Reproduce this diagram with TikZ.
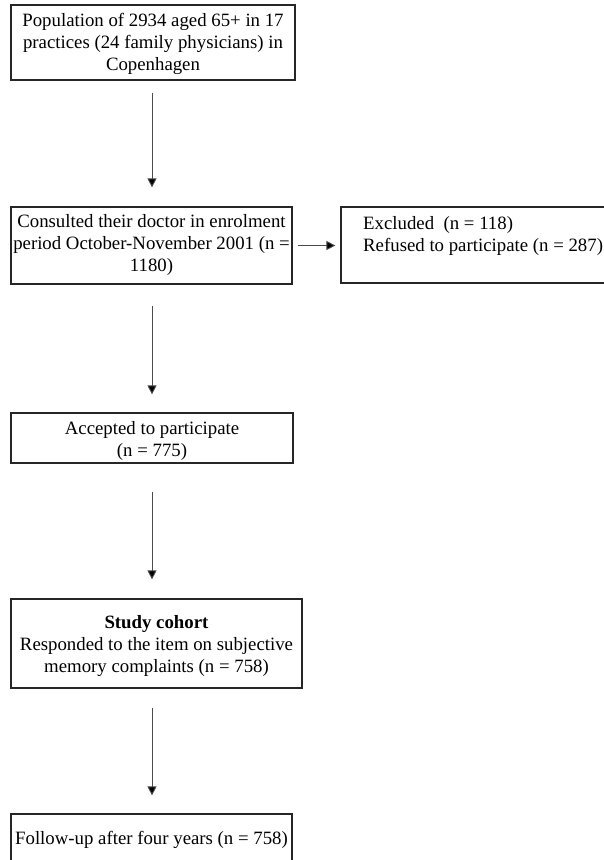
\documentclass[tikz,border=0pt]{standalone}
\usepackage{fontspec}
\setmainfont{Liberation Serif}
\usetikzlibrary{arrows.meta}
\begin{document}
\begin{tikzpicture}[x=1pt,y=-1pt,
  box/.style={draw=black!85, line width=1.2pt, inner sep=0pt},
  txt/.style={inner sep=0pt, align=center, font=\fontsize{18.8}{22}\selectfont},
  arr/.style={draw=black!70, line width=0.9pt, -{Triangle[width=9pt,length=9pt,fill=black]}}]
\useasboundingbox (0,0) rectangle (604,860);
\clip (0,0) rectangle (604,860);
\coordinate (ax) at (152,0);
\node[box, minimum width=284pt, minimum height=75pt] (b1) at (153,42.5) {};
\node[txt] (b1t) at (153,44)
  {Population of 2934 aged 65+ in 17\\practices (24 family physicians) in\\Copenhagen};
\node[box, minimum width=281pt, minimum height=77pt] (b2) at (151.5,245.5) {};
\node[txt] (b2t) at (151.5,245)
  {Consulted their doctor in enrolment\\period October-November 2001 (n =\\1180)};
\node[box, minimum width=299pt, minimum height=76pt] (r) at (490.5,245) {};
\node[txt, anchor=west, align=left] (rt) at (363,235.5)
  {Excluded~~(n = 118)\\Refused to participate (n = 287)};
\node[box, minimum width=282pt, minimum height=50pt] (b3) at (152,438) {};
\node[txt] (b3t) at (152,440.5)
  {Accepted to participate\\(n = 775)};
\node[box, minimum width=291pt, minimum height=89pt] (b4) at (156.5,643.5) {};
\node[txt] (b4t) at (156.5,646)
  {\textbf{Study cohort}\\Responded to the item on subjective\\memory complaints (n = 758)};
\node[box, minimum width=281pt, minimum height=70pt] (b5) at (151.5,849) {};
\node[txt] (b5t) at (151.5,839.5) {Follow-up after four years (n = 758)};
\draw[arr, shorten <=12pt, shorten >=19pt] (b1.south -| ax) -- (b2.north -| ax);
\draw[arr, shorten <=21pt, shorten >=18pt] (b2.south -| ax) -- (b3.north -| ax);
\draw[arr, shorten <=28pt, shorten >=19pt] (b3.south -| ax) -- (b4.north -| ax);
\draw[arr, shorten <=19pt, shorten >=18pt] (b4.south -| ax) -- (b5.north -| ax);
\draw[arr, shorten <=5pt, shorten >=5pt] (b2.east) -- (b2.east -| r.west);
\end{tikzpicture}
\end{document}
